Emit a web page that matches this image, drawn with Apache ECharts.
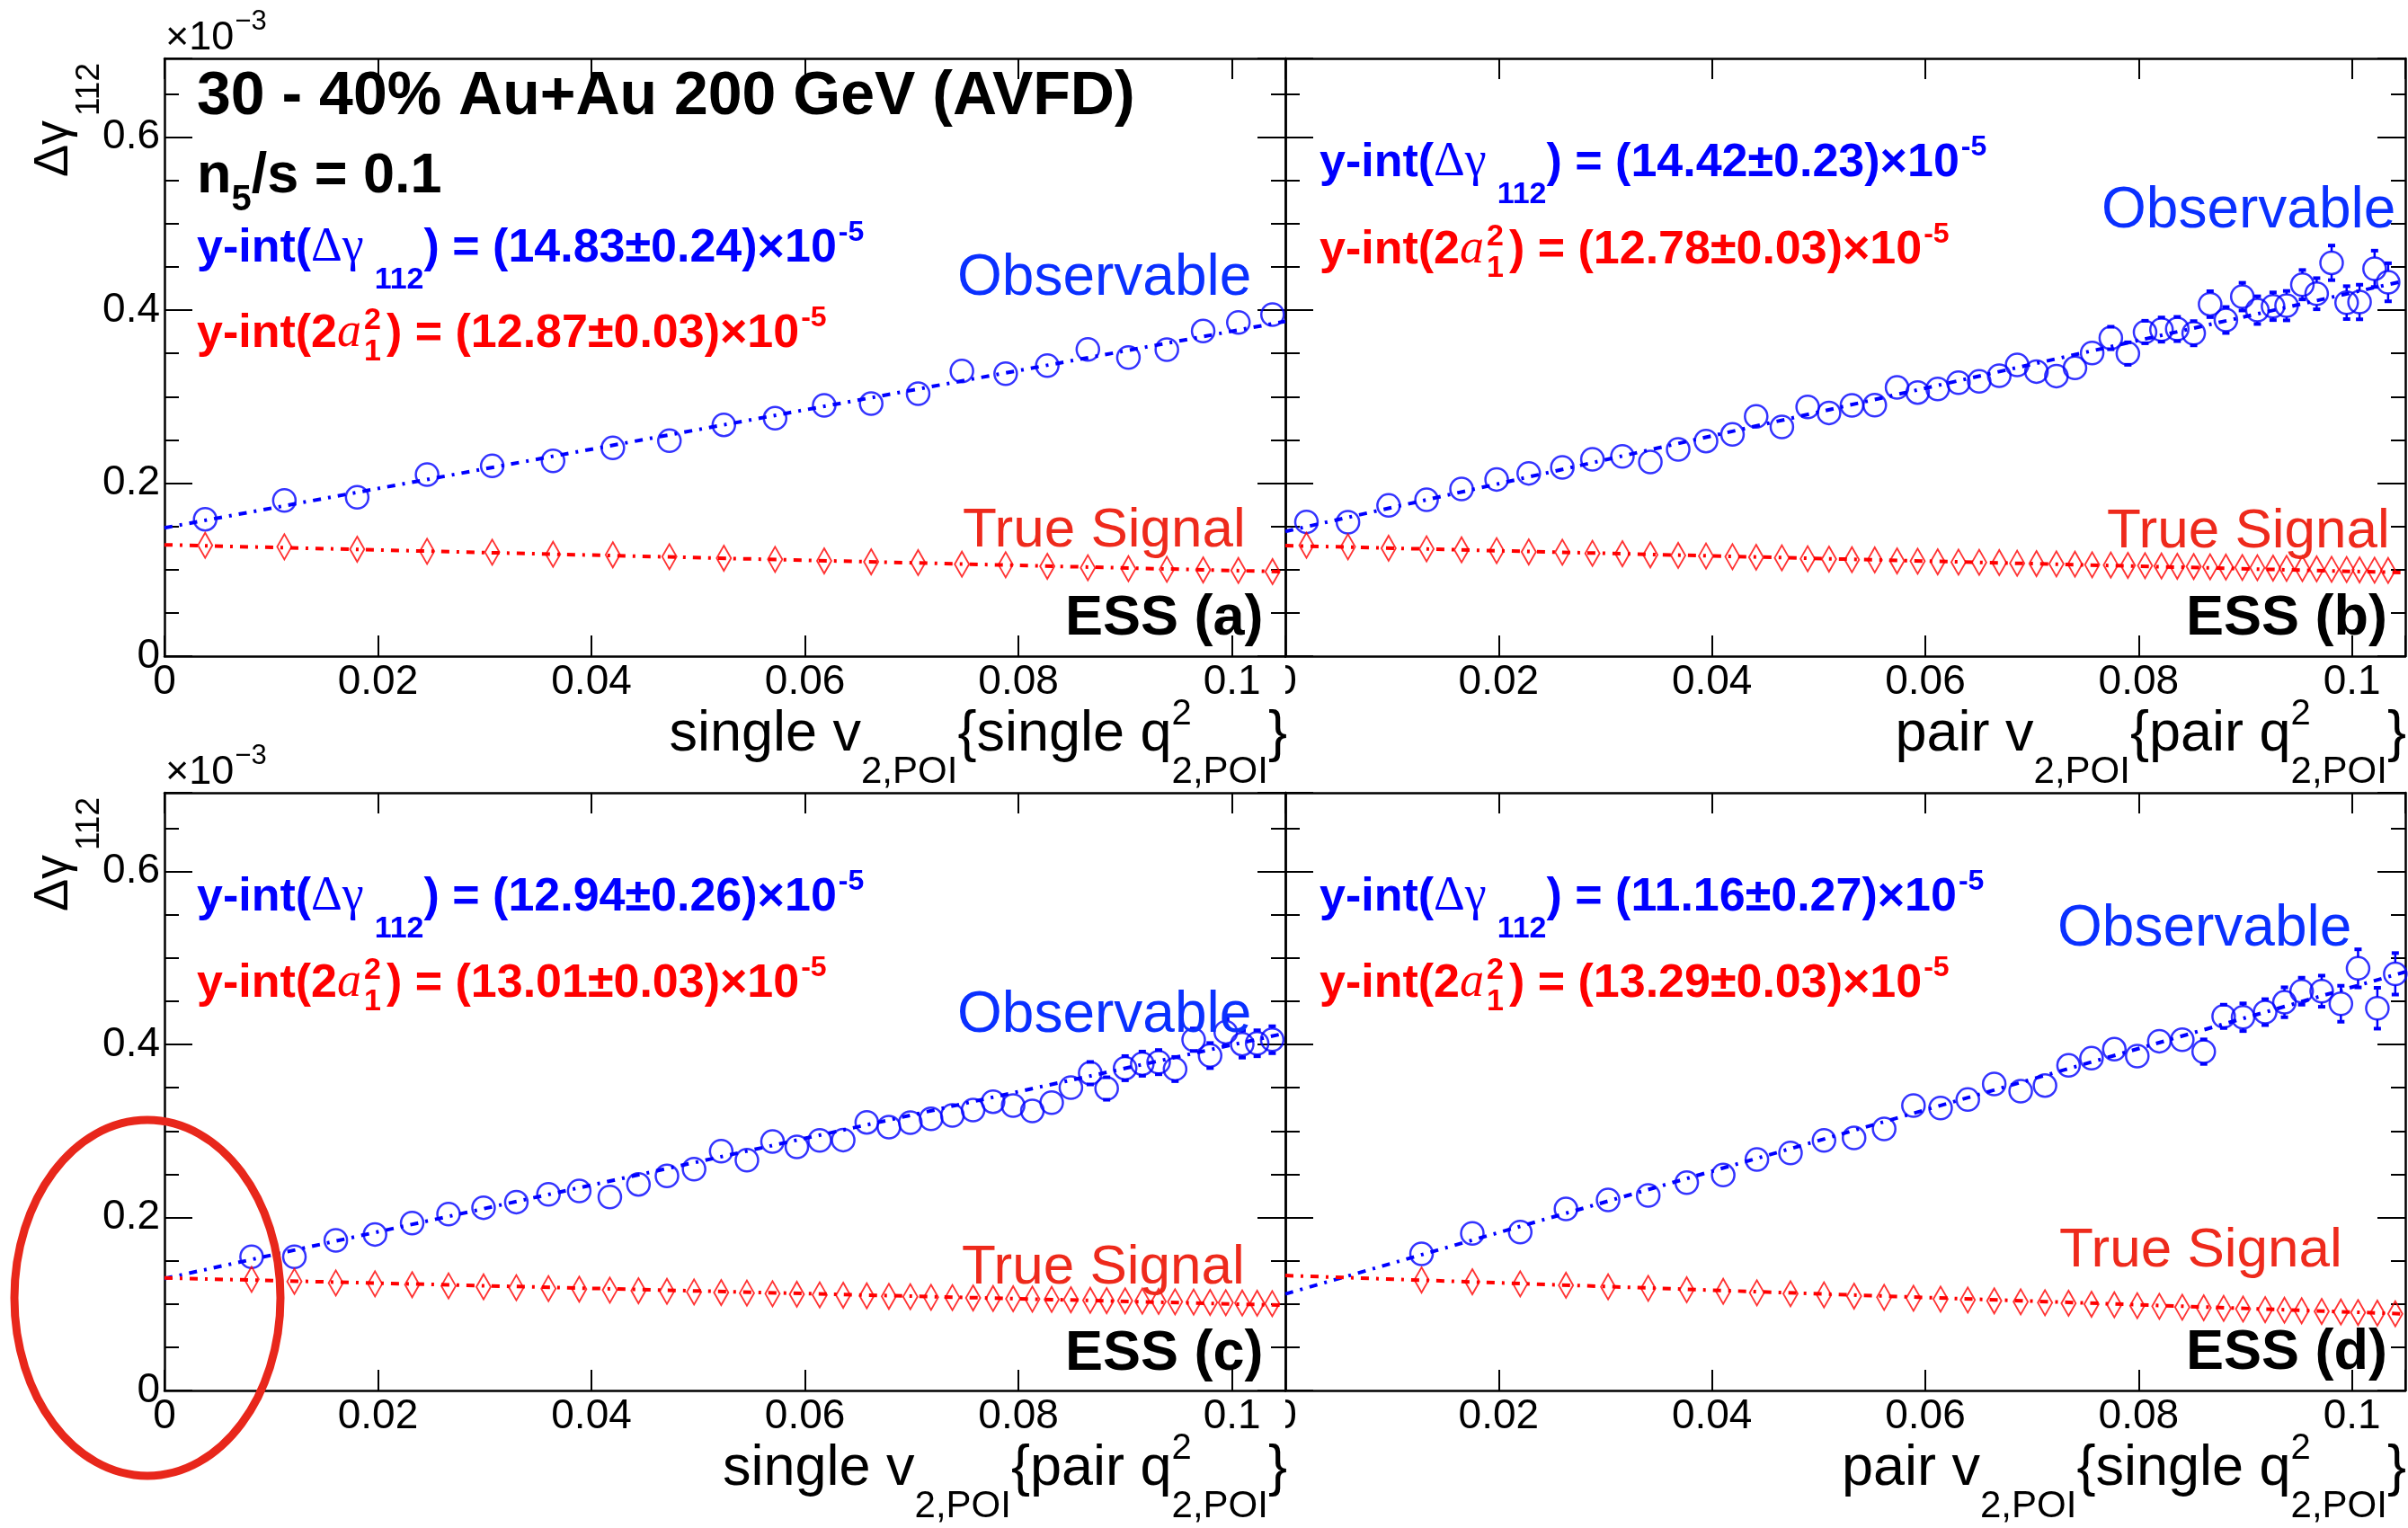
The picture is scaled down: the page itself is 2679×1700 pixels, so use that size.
<!DOCTYPE html>
<html><head><meta charset="utf-8">
<script src="https://cdn.jsdelivr.net/npm/echarts@6/dist/echarts.min.js"></script>
<style>html,body{margin:0;padding:0;background:#fff}#c{width:2679px;height:1700px}</style>
</head><body><div id="c"></div>
<script>
// ---------------- DATA (units of 10^-3 on y) ----------------
const xTicks = [0, 0.02, 0.04, 0.06, 0.08, 0.1];
const yTicks = [0, 0.2, 0.4, 0.6];
const fitX = [0, 0.105];

// Panel (a): single v2 {single q2}
const xA = [0.00381,0.01123,0.01805,0.0246,0.0307,0.0364,0.0420,0.0473,0.0524,0.0572,0.0618,0.0662,0.0706,0.0747,0.0788,0.0827,0.0865,0.0903,0.0939,0.0973,0.1006,0.1038];
const obsA = [0.1583,0.1801,0.1836,0.2099,0.2199,0.2258,0.2407,0.2490,0.2674,0.2750,0.2899,0.2919,0.3034,0.3297,0.3266,0.3359,0.3546,0.3453,0.3543,0.3758,0.3858,0.3948];
const errA = [0.003,0.003,0.003,0.003,0.003,0.004,0.004,0.004,0.004,0.004,0.005,0.005,0.005,0.005,0.006,0.006,0.006,0.007,0.007,0.007,0.008,0.008];
const sigA = [0.1281,0.1264,0.1236,0.1212,0.1202,0.1177,0.1171,0.1150,0.1132,0.1119,0.1101,0.1091,0.1081,0.1063,0.1056,0.1039,0.1022,0.1011,0.1004,0.0997,0.0990,0.0977];
const fitObsA = [0.1483, 0.387];
const fitSigA = [0.1287, 0.0975];

// Panel (b): pair v2 {pair q2}
const xB = [0.00198,0.00587,0.00968,0.01324,0.01652,0.01981,0.02282,0.02597,0.02879,0.03160,0.03422,0.03683,0.03944,0.04192,0.04414,0.04655,0.04897,0.05097,0.05312,0.05526,0.05735,0.05928,0.06116,0.06311,0.06505,0.06693,0.06861,0.07042,0.07229,0.07403,0.07564,0.07739,0.07899,0.0806,0.08214,0.08362,0.08516,0.0867,0.08818,0.08972,0.09113,0.0926,0.09387,0.09535,0.09669,0.09809,0.0995,0.10071,0.10212,0.10339];
const obsB = [0.1552,0.1548,0.1742,0.1808,0.1932,0.2043,0.2113,0.2182,0.2275,0.2310,0.2244,0.2390,0.2487,0.2563,0.2771,0.2649,0.2881,0.2812,0.2899,0.2902,0.3106,0.3048,0.3089,0.3162,0.3176,0.3242,0.3366,0.3290,0.3238,0.3332,0.3505,0.3678,0.3498,0.3747,0.3775,0.3782,0.3733,0.4069,0.3886,0.4156,0.4000,0.4045,0.4052,0.4294,0.4190,0.4547,0.4087,0.4094,0.4478,0.4322];
const errB = [0.004,0.004,0.004,0.005,0.005,0.005,0.005,0.006,0.006,0.006,0.006,0.007,0.007,0.007,0.007,0.008,0.008,0.008,0.008,0.009,0.009,0.009,0.009,0.010,0.010,0.010,0.010,0.011,0.011,0.011,0.012,0.013,0.013,0.013,0.014,0.014,0.014,0.015,0.015,0.016,0.016,0.016,0.017,0.017,0.018,0.020,0.019,0.020,0.021,0.022];
const sigB = [0.1281,0.1264,0.1247,0.1240,0.1229,0.1219,0.1205,0.1202,0.1188,0.1184,0.1171,0.1164,0.1157,0.1150,0.1143,0.1136,0.1126,0.1122,0.1115,0.1112,0.1101,0.1098,0.1091,0.1087,0.1084,0.1081,0.1074,0.1070,0.1067,0.1063,0.1056,0.1053,0.1049,0.1046,0.1042,0.1039,0.1036,0.1032,0.1029,0.1025,0.1022,0.1018,0.1015,0.1011,0.1008,0.1004,0.1001,0.0997,0.0994,0.0990];
const fitObsB = [0.1442, 0.434];
const fitSigB = [0.1278, 0.0965];

// Panel (c): single v2 {pair q2}
const xC = [0.00816,0.01217,0.01605,0.01972,0.02320,0.02661,0.02989,0.03296,0.03597,0.03885,0.04172,0.04440,0.04707,0.04961,0.05215,0.05456,0.05696,0.05924,0.06138,0.06358,0.06579,0.06786,0.06987,0.07181,0.07381,0.07575,0.07762,0.07950,0.08130,0.08311,0.08491,0.08672,0.08826,0.08999,0.09160,0.09313,0.09467,0.09641,0.09795,0.09942,0.10096,0.10236,0.10377];
const obsC = [0.1545,0.1545,0.1735,0.1804,0.1936,0.2040,0.2113,0.2178,0.2268,0.2306,0.2237,0.2383,0.2480,0.2559,0.2767,0.2663,0.2878,0.2816,0.2892,0.2895,0.3100,0.3044,0.3096,0.3141,0.3179,0.3242,0.3339,0.3294,0.3231,0.3328,0.3501,0.3668,0.3491,0.3726,0.3778,0.3796,0.3716,0.4055,0.3872,0.4142,0.4004,0.4014,0.4055];
const errC = [0.004,0.004,0.005,0.005,0.005,0.006,0.006,0.006,0.007,0.007,0.007,0.008,0.008,0.008,0.008,0.009,0.009,0.009,0.009,0.010,0.010,0.010,0.010,0.011,0.011,0.011,0.011,0.011,0.012,0.012,0.012,0.013,0.013,0.014,0.014,0.014,0.014,0.013,0.0145,0.015,0.0156,0.015,0.0156];
const sigC = [0.1285,0.1261,0.1243,0.1233,0.1223,0.1209,0.1198,0.1188,0.1178,0.1171,0.1160,0.1153,0.1146,0.1139,0.1132,0.1126,0.1119,0.1112,0.1105,0.1101,0.1094,0.1088,0.1084,0.1077,0.1074,0.1070,0.1063,0.1060,0.1056,0.1053,0.1049,0.1042,0.1039,0.1036,0.1032,0.1029,0.1025,0.1022,0.1018,0.1015,0.1011,0.1008,0.1004];
const fitObsC = [0.1294, 0.413];
const fitSigC = [0.1301, 0.0985];

// Panel (d): pair v2 {single q2}
const xD = [0.01277,0.01753,0.02202,0.02631,0.03026,0.03402,0.03763,0.04105,0.04421,0.04736,0.0505,0.05332,0.05614,0.05889,0.06143,0.06398,0.06646,0.06894,0.07122,0.07343,0.07558,0.07772,0.07987,0.08194,0.08409,0.0861,0.08797,0.08979,0.09186,0.09367,0.09528,0.09716,0.09896,0.10057,0.10238,0.10406];
const obsD = [0.1579,0.1815,0.1832,0.2099,0.2203,0.2255,0.2403,0.2490,0.2670,0.2746,0.2892,0.2919,0.3023,0.3294,0.3266,0.3363,0.3543,0.3460,0.3526,0.3758,0.3841,0.3945,0.3865,0.4038,0.4055,0.3917,0.4325,0.4315,0.4374,0.4488,0.4616,0.4616,0.4471,0.4880,0.4419,0.4817];
const errD = [0.004,0.004,0.005,0.005,0.005,0.006,0.006,0.006,0.007,0.007,0.007,0.008,0.008,0.008,0.009,0.009,0.009,0.010,0.010,0.010,0.011,0.011,0.011,0.0114,0.0125,0.0142,0.0135,0.016,0.015,0.0173,0.0156,0.018,0.0208,0.022,0.0236,0.024];
const sigD = [0.1278,0.1257,0.1233,0.1216,0.1198,0.1181,0.1164,0.1146,0.1129,0.1119,0.1105,0.1091,0.1077,0.1067,0.1056,0.1046,0.1036,0.1025,0.1015,0.1008,0.0997,0.0990,0.0980,0.0973,0.0963,0.0956,0.0949,0.0942,0.0935,0.0928,0.0922,0.0914,0.0907,0.0901,0.0894,0.0886];
const fitObsD = [0.1116, 0.484];
const fitSigD = [0.1329, 0.0885];

const yintObs = ['14.83\u00b10.24', '14.42\u00b10.23', '12.94\u00b10.26', '11.16\u00b10.27'];
const yintSig = ['12.87\u00b10.03', '12.78\u00b10.03', '13.01\u00b10.03', '13.29\u00b10.03'];
const panelTags = ['ESS (a)', 'ESS (b)', 'ESS (c)', 'ESS (d)'];
const xTitleV = ['single v', 'pair v', 'single v', 'pair v'];
const xTitleQ = ['{single q', '{pair q', '{pair q', '{single q'];

// ---------------- STYLE / LAYOUT ----------------
const SANS = '"Liberation Sans", Arial, Helvetica, sans-serif';
const SERIF = '"Liberation Serif", "Times New Roman", serif';
const BLUE = '#0000ff', RED = '#ff0000', OBS_C = '#0a30ff', TS_C = '#ee2a1c';
const XMAX = 0.105, YMAX = 0.691;
const GRIDS = [
  {left: 183, top: 65, width: 1247, height: 665},
  {left: 1430, top: 65, width: 1247, height: 665},
  {left: 183, top: 882, width: 1247, height: 665},
  {left: 1430, top: 882, width: 1247, height: 665}
];
const panels = [
  {x: xA, obs: obsA, err: errA, sig: sigA, fo: fitObsA, fs: fitSigA},
  {x: xB, obs: obsB, err: errB, sig: sigB, fo: fitObsB, fs: fitSigB},
  {x: xC, obs: obsC, err: errC, sig: sigC, fo: fitObsC, fs: fitSigC},
  {x: xD, obs: obsD, err: errD, sig: sigD, fo: fitObsD, fs: fitSigD}
];

function near(v, arr) { return arr.find(t => Math.abs(t - v) < 1e-6); }
const fmtX = v => { const t = near(v, xTicks); return t === undefined ? '' : String(t); };
const fmtY = v => { const t = near(v, yTicks); return t === undefined ? '' : String(t); };

const LINE = {color: '#000', width: 2.5};
const MR = 12.5; // circle marker radius in px
const xAxes = [], yAxes = [], series = [];
GRIDS.forEach((g, i) => {
  const showY = (i % 2 === 0);
  ['bottom', 'top'].forEach(pos => xAxes.push({
    gridIndex: i, type: 'value', min: 0, max: XMAX, interval: 0.02, position: pos,
    axisLine: {show: true, onZero: false, lineStyle: LINE},
    axisTick: {show: true, inside: true, length: 23, lineStyle: {color: '#000', width: 2}},
    axisLabel: {show: pos === 'bottom', margin: 6, fontSize: 46, fontFamily: SANS, color: '#000', formatter: fmtX},
    splitLine: {show: false}
  }));
  ['left', 'right'].forEach(pos => {
    yAxes.push({
      gridIndex: i, type: 'value', min: 0, max: YMAX, interval: 0.2, position: pos,
      axisLine: {show: true, onZero: false, lineStyle: LINE},
      axisTick: {show: true, inside: true, length: 31, lineStyle: {color: '#000', width: 2}},
      axisLabel: {show: pos === 'left' && showY, margin: 5, fontSize: 46, fontFamily: SANS, color: '#000', formatter: fmtY},
      splitLine: {show: false}
    });
    yAxes.push({
      gridIndex: i, type: 'value', min: 0, max: YMAX, interval: 0.05, position: pos,
      axisLine: {show: false, onZero: false},
      axisTick: {show: true, inside: true, length: 16, lineStyle: {color: '#000', width: 2}},
      axisLabel: {show: false}, splitLine: {show: false}
    });
  });
  const p = panels[i];
  const xi = 2 * i, yi = 4 * i;
  const dash = [9, 8, 3, 8];
  series.push({type: 'line', xAxisIndex: xi, yAxisIndex: yi, symbol: 'none', silent: true, z: 3,
    data: fitX.map((xv, k) => [xv, p.fo[k]]), lineStyle: {color: BLUE, width: 4, type: dash}});
  series.push({type: 'line', xAxisIndex: xi, yAxisIndex: yi, symbol: 'none', silent: true, z: 3,
    data: fitX.map((xv, k) => [xv, p.fs[k]]), lineStyle: {color: RED, width: 4, type: dash}});
  series.push({type: 'scatter', xAxisIndex: xi, yAxisIndex: yi, symbol: 'circle', symbolSize: 2 * MR, z: 4,
    data: p.x.map((xv, k) => [xv, p.obs[k]]),
    itemStyle: {color: 'rgba(255,255,255,0)', borderColor: BLUE, borderWidth: 2.5}});
  series.push({type: 'scatter', xAxisIndex: xi, yAxisIndex: yi, symbol: 'path://M0,-14L8,0L0,14L-8,0Z', symbolSize: [16, 28], z: 4,
    data: p.x.map((xv, k) => [xv, p.sig[k]]),
    itemStyle: {color: 'rgba(255,255,255,0)', borderColor: RED, borderWidth: 2}});
  series.push({type: 'custom', xAxisIndex: xi, yAxisIndex: yi, z: 4, silent: true,
    data: p.x.map((xv, k) => [xv, p.obs[k], p.err[k]]),
    renderItem: (params, api) => {
      const xv = api.value(0), yv = api.value(1), e = api.value(2);
      const c = api.coord([xv, yv]), t = api.coord([xv, yv + e]), b = api.coord([xv, yv - e]);
      const ch = [];
      const st = {stroke: BLUE, lineWidth: 2.5};
      const cap = {stroke: BLUE, lineWidth: 4};
      if (c[1] - t[1] > MR) {
        ch.push({type: 'line', shape: {x1: c[0], y1: c[1] - MR, x2: c[0], y2: t[1]}, style: st});
        ch.push({type: 'line', shape: {x1: c[0] - 4, y1: t[1], x2: c[0] + 4, y2: t[1]}, style: cap});
      }
      if (b[1] - c[1] > MR) {
        ch.push({type: 'line', shape: {x1: c[0], y1: c[1] + MR, x2: c[0], y2: b[1]}, style: st});
        ch.push({type: 'line', shape: {x1: c[0] - 4, y1: b[1], x2: c[0] + 4, y2: b[1]}, style: cap});
      }
      return {type: 'group', children: ch};
    }});
});

// ---------------- TEXT HELPERS ----------------
const mctx = document.createElement('canvas').getContext('2d');
function fnt(s) { return (s.italic ? 'italic ' : '') + (s.bold ? 'bold ' : '') + s.size + 'px ' + (s.family || SANS); }
function wid(t, s) { mctx.font = fnt(s); return mctx.measureText(t).width; }
function tstyle(t, s, color) {
  return {text: t, font: fnt(s), fill: color, align: 'left', verticalAlign: 'middle', textAlign: 'left', textVerticalAlign: 'middle'};
}
function txt(t, x, base, s, color) {
  return {type: 'text', x: x, y: base - 0.3465 * s.size, z: 50, silent: true, style: tstyle(t, s, color)};
}
// vertical text reading bottom-to-top; baseX = x of the baseline, y0 = starting (lower) end
function vtxt(t, baseX, y0, s, color) {
  return {type: 'text', x: baseX - 0.3465 * s.size, y: y0, rotation: Math.PI / 2, z: 50, silent: true, style: tstyle(t, s, color)};
}
function segW(s) { return s.stack ? Math.max(...s.stack.map(q => wid(q.t, q))) : wid(s.t, s); }
function compose(segs, x, base, color, right) {
  const total = segs.reduce((a, s) => a + (s.dx || 0) + segW(s), 0);
  let cx = right ? x - total : x;
  const out = [];
  for (const s of segs) {
    cx += s.dx || 0;
    for (const q of (s.stack || [s])) out.push(txt(q.t, cx, base + (q.dy || 0), q, q.color || color));
    cx += segW(s);
  }
  return out;
}

const G = [];
const F = 52;
const yintPos = [[219, 295, 390], [1468, 200, 297], [219, 1017, 1113], [1468, 1017, 1113]];
const obsPos = [[1065, 333], [2338, 258], [1065, 1153], [2289, 1057]];
const tsPos = [[1071, 612], [2344, 613], [1070, 1432], [2291, 1413]];
const tagPos = [[1185, 710], [2432, 710], [1185, 1528], [2432, 1527]];
const titleRight = [1432, 2677, 1432, 2677];
const titleBase = [839, 839, 1656, 1656];

for (let i = 0; i < 4; i++) {
  const [yx, yb, yr] = yintPos[i];
  G.push(...compose([
    {t: 'y-int(', size: F, bold: true},
    {t: '\u0394\u03b3', size: F + 2, family: SERIF},
    {t: '112', size: 34, bold: true, dy: 28, dx: 12},
    {t: ') = (' + yintObs[i] + ')\u00d710', size: F, bold: true},
    {t: '-5', size: 32, bold: true, dy: -25, dx: 2}
  ], yx, yb, BLUE));
  G.push(...compose([
    {t: 'y-int(2', size: F, bold: true},
    {t: 'a', size: F + 2, italic: true, family: SERIF},
    {stack: [{t: '2', size: 34, bold: true, dy: -22}, {t: '1', size: 34, bold: true, dy: 13}], dx: 3},
    {t: ') = (' + yintSig[i] + ')\u00d710', size: F, bold: true, dx: 6},
    {t: '-5', size: 32, bold: true, dy: -25, dx: 2}
  ], yx, yr, RED));
  G.push(txt('Observable', obsPos[i][0], obsPos[i][1], {size: 64}, OBS_C));
  G.push(txt('True Signal', tsPos[i][0], tsPos[i][1], {size: 62}, TS_C));
  G.push(txt(panelTags[i], tagPos[i][0], tagPos[i][1], {size: 63, bold: true}, '#000'));
  G.push(...compose([
    {t: xTitleV[i], size: 63},
    {t: '2,POI', size: 42, dy: 35},
    {t: xTitleQ[i], size: 63},
    {stack: [{t: '2', size: 40, dy: -30}, {t: '2,POI', size: 42, dy: 35}]},
    {t: '}', size: 63}
  ], titleRight[i], titleBase[i], '#000', true));
}
// panel (a) header
G.push(txt('30 - 40% Au+Au 200 GeV (AVFD)', 219, 132, {size: 68, bold: true}, '#000'));
G.push(...compose([
  {t: 'n', size: 63, bold: true},
  {t: '5', size: 40, bold: true, dy: 19},
  {t: '/s = 0.1', size: 63, bold: true}
], 219, 218, '#000'));
// exponent labels and y titles for left panels
[[58, 197], [875, 1014]].forEach(([eb, yb]) => {
  G.push(...compose([
    {t: '\u00d710', size: 45},
    {t: '\u22123', size: 31, dy: -23, dx: 1}
  ], 184, eb, '#000'));
  G.push(vtxt('\u0394\u03b3', 79, yb, {size: 54}, '#000'));
  G.push(vtxt('112', 113, yb - 68, {size: 37}, '#000'));
});
// clipped "0" labels at the left edge of the right-hand pads
G.push({type: 'rect', shape: {x: 1402, y: 734, width: 28, height: 46}, style: {fill: '#fff'}, z: 60, silent: true});
G.push({type: 'rect', shape: {x: 1402, y: 1551, width: 28, height: 46}, style: {fill: '#fff'}, z: 60, silent: true});
// red hand-drawn ellipse annotation
G.push({type: 'ellipse', shape: {cx: 164, cy: 1444, rx: 148, ry: 198}, style: {fill: 'none', stroke: '#e8271b', lineWidth: 9}, z: 70, silent: true});

const chart = echarts.init(document.getElementById('c'), null, {renderer: 'canvas', width: 2679, height: 1700});
chart.setOption({
  animation: false,
  backgroundColor: '#fff',
  grid: GRIDS.map(g => Object.assign({containLabel: false}, g)),
  xAxis: xAxes,
  yAxis: yAxes,
  series: series,
  graphic: {elements: G}
});
</script></body></html>
